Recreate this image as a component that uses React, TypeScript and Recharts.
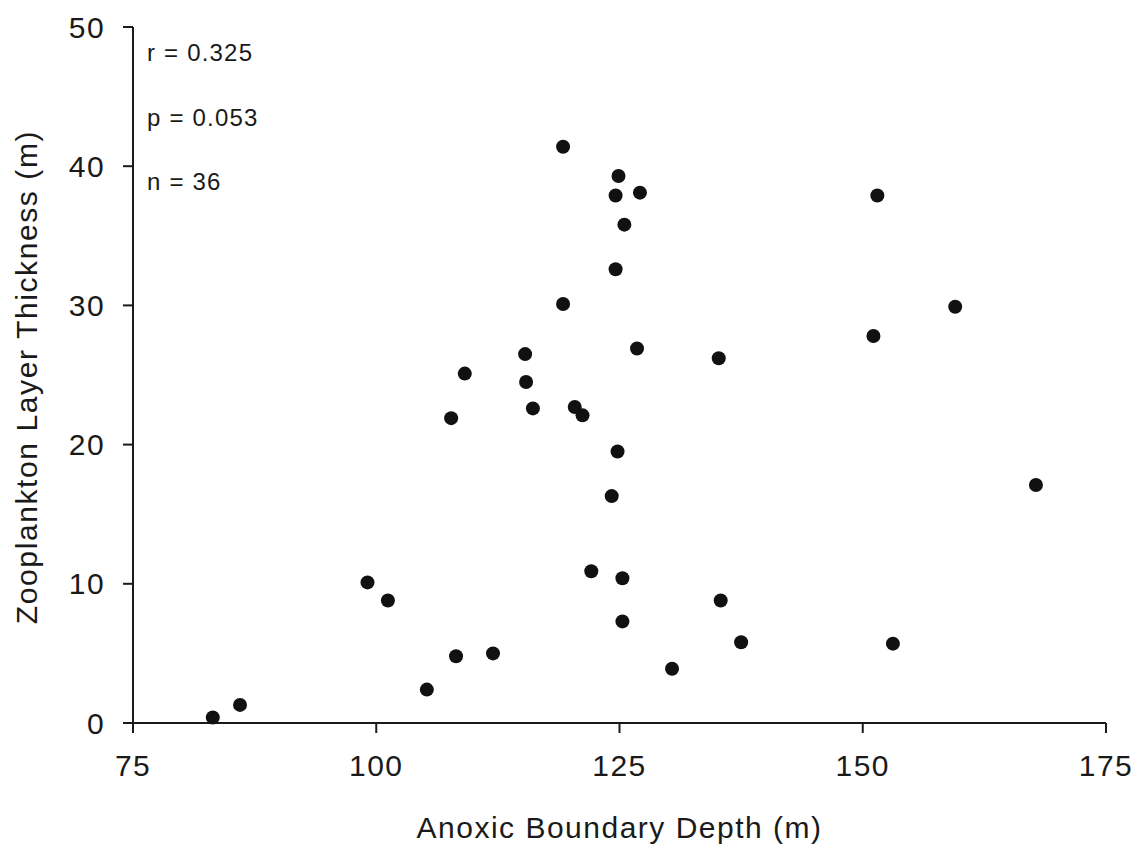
import { ScatterChart, Scatter, XAxis, YAxis } from 'recharts'

// anoxic boundary depth (m) vs zooplankton layer thickness (m)
const depth = [
  83.2, 86.0, 99.1, 101.2, 105.2, 107.7, 108.2, 109.1, 112.0, 115.3, 115.4, 116.1,
  119.2, 119.2, 120.4, 121.2, 122.1, 124.2, 124.6, 124.6, 124.8, 124.9, 125.3, 125.3,
  125.5, 126.8, 127.1, 130.4, 135.2, 135.4, 137.5, 151.1, 151.5, 153.1, 159.5, 167.8,
]
const thickness = [
  0.4, 1.3, 10.1, 8.8, 2.4, 21.9, 4.8, 25.1, 5.0, 26.5, 24.5, 22.6,
  30.1, 41.4, 22.7, 22.1, 10.9, 16.3, 32.6, 37.9, 19.5, 39.3, 10.4, 7.3,
  35.8, 26.9, 38.1, 3.9, 26.2, 8.8, 5.8, 27.8, 37.9, 5.7, 29.9, 17.1,
]
const xTicks = [75, 100, 125, 150, 175]
const yTicks = [0, 10, 20, 30, 40, 50]
const stats = ['r = 0.325', 'p = 0.053', 'n = 36']

const points = depth.map((d, i) => ({ depth: d, thickness: thickness[i] }))

const FONT = '"Liberation Sans", Arial, Helvetica, sans-serif'
const INK = '#1a1a1a'

const tickStyle = { fontSize: 30, fill: INK, fontFamily: FONT, letterSpacing: 1.4 }

// filled black dot, about 14px across
const Dot = (props: any) => <circle cx={props.cx} cy={props.cy} r={7} fill="#111" />

export default function App() {
  return (
    <div style={{ position: 'absolute', left: 0, top: 0, width: 1139, height: 848, background: '#fff' }}>
      <ScatterChart width={1139} height={848} margin={{ top: 27, right: 33, bottom: 0, left: 0 }}>
        <XAxis
          type="number"
          dataKey="depth"
          domain={[75, 175]}
          ticks={xTicks}
          height={125}
          tickSize={10}
          tickMargin={22}
          tick={tickStyle}
          stroke={INK}
          strokeWidth={2}
          label={{
            content: () => (
              <text x={619.5} y={827.5} dy="0.355em" textAnchor="middle" fontSize={30} fontFamily={FONT} letterSpacing={1.5} fill={INK}>
                Anoxic Boundary Depth (m)
              </text>
            ),
          }}
        />
        <YAxis
          type="number"
          dataKey="thickness"
          domain={[0, 50]}
          ticks={yTicks}
          width={133}
          tickSize={10}
          tickMargin={18}
          tick={tickStyle}
          stroke={INK}
          strokeWidth={2}
          label={{
            content: () => (
              <text x={26} y={377} dy="0.355em" textAnchor="middle" transform="rotate(-90 26 377)" fontSize={30} fontFamily={FONT} letterSpacing={1.6} fill={INK}>
                Zooplankton Layer Thickness (m)
              </text>
            ),
          }}
        />
        <Scatter data={points} fill="#111" shape={Dot} isAnimationActive={false} />
      </ScatterChart>
      <svg width={1139} height={848} style={{ position: 'absolute', left: 0, top: 0, pointerEvents: 'none' }}>
        {stats.map((s, i) => (
          <text key={s} x={147} y={61 + i * 64.7} fontSize={24} fontFamily={FONT} letterSpacing={1.2} fill={INK}>
            {s}
          </text>
        ))}
      </svg>
    </div>
  )
}
